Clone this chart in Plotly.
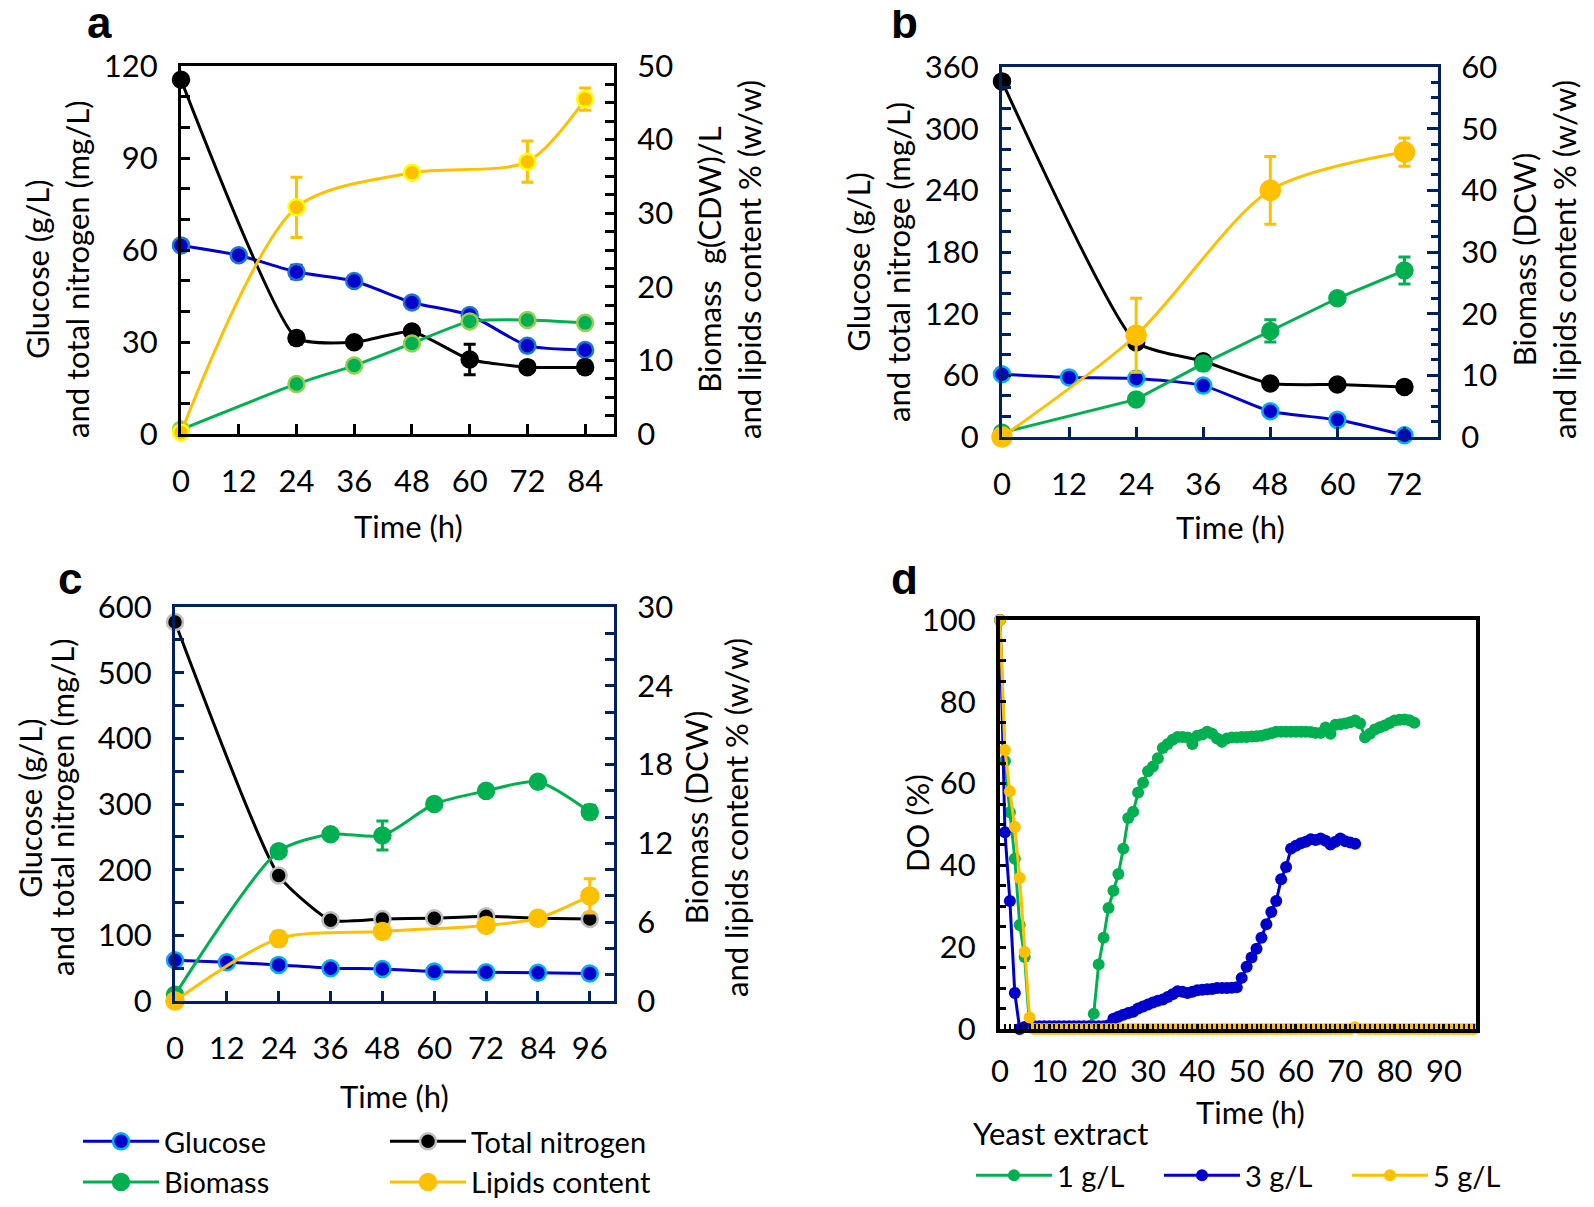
import plotly.graph_objects as go

# page size and the browser's default 8px body margin
PAGE_W, PAGE_H = 1594, 1207
OFF = 8
W, H = PAGE_W - 2 * OFF, PAGE_H - 2 * OFF

# ---------------- data ----------------
# Panel a
a_t_glu = [0, 12, 24, 36, 48, 60, 72, 84]
a_glu = [61.5, 58.3, 52.8, 49.9, 42.9, 38.8, 28.8, 27.4]
a_glu_err = [1.5, 1.2, 2.2, 1.5, 1.5, 1.0, 1.0, 1.0]
a_t_n = [0, 24, 36, 48, 60, 72, 84]
a_n = [115.5, 31.3, 29.9, 33.4, 24.3, 21.8, 21.8]
a_n_err = [1.0, 2.0, 1.5, 1.5, 5.0, 1.5, 2.0]
a_t_bio = [0, 24, 36, 48, 60, 72, 84]
a_bio = [0.6, 6.8, 9.3, 12.3, 15.3, 15.5, 15.1]
a_bio_err = [0.2, 0.3, 0.3, 0.5, 0.4, 0.3, 0.3]
a_t_lip = [0, 24, 48, 72, 84]
a_lip = [0.2, 30.8, 35.5, 37.0, 45.5]
a_lip_err = [0.0, 4.1, 0.5, 2.8, 1.5]

# Panel b
b_t_glu = [0, 12, 24, 36, 48, 60, 72]
b_glu = [61, 58, 57, 50, 25, 16.7, 1.7]
b_t_n = [0, 24, 36, 48, 60, 72]
b_n = [346, 92, 73.7, 52, 51, 48.6]
b_n_err = [2, 3, 3, 3, 3, 3]
b_t_bio = [0, 24, 36, 48, 60, 72]
b_bio = [0.7, 6.1, 11.9, 17.2, 22.5, 27.0]
b_bio_err = [0.2, 0.5, 1.0, 1.8, 0.8, 2.2]
b_t_lip = [0, 24, 48, 72]
b_lip = [0.0, 16.5, 40.0, 46.2]
b_lip_err = [0.0, 6.0, 5.5, 2.3]

# Panel c
c_t_glu = [0, 12, 24, 36, 48, 60, 72, 84, 96]
c_glu = [62, 59, 55, 50, 48.8, 45, 43.8, 43, 42]
c_t_n = [0, 24, 36, 48, 60, 72, 84, 96]
c_n = [577, 191, 123, 125, 126, 129, 126, 125]
c_t_bio = [0, 24, 36, 48, 60, 72, 84, 96]
c_bio = [0.47, 11.4, 12.7, 12.6, 15.0, 16.0, 16.7, 14.4]
c_bio_err = [0.1, 0.4, 0.3, 1.1, 0.3, 0.3, 0.3, 0.5]
c_t_lip = [0, 24, 48, 72, 84, 96]
c_lip = [0.0, 4.75, 5.3, 5.75, 6.3, 8.0]
c_lip_err = [0.0, 0.55, 0.5, 0.3, 0.35, 1.3]

# Panel d (DO %, hourly)
d_t_1 = list(range(0, 85))
d_do_1 = [100, 65.5, 53, 41.6, 25.4, 17.6, 0.4, 0.4, 0.4, 0.4,
          0.4, 0.4, 0.4, 0.4, 0.4, 0.4, 0.4, 0.4, 0.5, 3.7,
          15.8, 22.3, 29.6, 33.8, 37.9, 44.1, 51.6, 53.1, 57.8, 60.2,
          63.0, 64.2, 66.2, 68.7, 69.7, 70.7, 71.4, 71.4, 71.3, 69.7,
          71.7, 72.0, 72.7, 72.2, 71.0, 70.2, 71.0, 71.3, 71.3, 71.4,
          71.4, 71.5, 71.6, 71.7, 72.0, 72.3, 72.7, 72.7, 72.7, 72.7,
          72.7, 72.7, 72.7, 72.6, 72.4, 72.4, 73.7, 72.2, 74.4, 74.5,
          74.7, 75.0, 75.4, 74.7, 71.3, 72.2, 73.2, 73.8, 74.2, 74.8,
          75.4, 75.6, 75.7, 75.5, 74.9]
d_t_3 = list(range(0, 73))
d_do_3 = [100, 48.1, 31.3, 8.8, 0.0, 0.5, 0.7, 0.7, 0.7, 0.7,
          0.7, 0.7, 0.7, 0.7, 0.7, 0.7, 0.7, 0.7, 0.7, 0.7,
          0.7, 0.7, 0.9, 2.5, 3.0, 3.5, 3.9, 4.2, 5.0, 5.5,
          6.0, 6.5, 6.9, 7.2, 7.8, 8.5, 9.2, 9.1, 8.8, 9.1,
          9.5, 9.6, 9.7, 9.8, 10.0, 10.0, 10.0, 10.1, 10.2, 12.5,
          15.2, 17.5, 19.6, 22.3, 25.6, 28.6, 31.3, 36.6, 39.6, 44.1,
          44.8, 45.4, 45.8, 46.4, 46.2, 46.6, 46.0, 45.1, 45.8, 46.6,
          45.9, 45.6, 45.3]
d_t_5 = list(range(0, 97))
d_do_5 = [100, 68.2, 58.1, 49.4, 36.9, 18.8, 2.8, 0, 0, 0,
          0, 0, 0, 0, 0, 0, 0, 0, 0, 0,
          0, 0, 0, 0, 0, 0, 0, 0, 0, 0,
          0, 0, 0, 0, 0, 0, 0, 0, 0, 0,
          0, 0, 0, 0, 0, 0, 0, 0, 0, 0,
          0, 0, 0, 0, 0, 0, 0, 0, 0, 0,
          0, 0, 0, 0, 0, 0, 0, 0, 0, 0,
          0, 0, 0.4, 0, 0, 0, 0, 0, 0, 0,
          0, 0, 0, 0, 0, 0, 0, 0, 0, 0,
          0, 0, 0, 0, 0, 0, 0]

# ---------------- styles ----------------
FONT = "Lato"
BLUE = "#0000CC"
GREEN = "#00B050"
GOLD = "#FFC000"
BLACK = "#000000"
NAVY = "#002060"
TICK_SIZE = 31
TITLE_SIZE = 31
LEG_SIZE = 29


def px(x):
    return (x - OFF) / W


def py(y):
    return 1 - (y - OFF) / H


fig = go.Figure()


def series(x, y, color, xa, ya, err=None, fill=None, outline=None, size=15,
           shape="spline", name=None, legend=None, lw=3, olw=2.5, smooth=1.0):
    line = dict(color=color, width=lw, shape=shape)
    if shape == "spline":
        line["smoothing"] = smooth
    fig.add_trace(go.Scatter(
        x=x, y=y, xaxis=xa, yaxis=ya, mode="lines+markers",
        name=name, showlegend=legend is not None,
        legend=legend if legend else "legend",
        line=line,
        marker=dict(color=fill or color, size=size,
                    line=dict(color=outline or fill or color, width=olw)),
        error_y=(dict(type="data", array=err, color=color, thickness=3, width=6)
                 if err is not None else None),
        cliponaxis=False,
    ))


# Panel a
series(a_t_glu, a_glu, BLUE, "x", "y", a_glu_err, BLUE, "#1E78D2", 16, smooth=0.6)
series(a_t_n, a_n, BLACK, "x", "y", a_n_err, BLACK, BLACK, 16, smooth=0.5)
series(a_t_bio, a_bio, GREEN, "x", "y2", a_bio_err, GREEN, "#92D050", 16, smooth=0.6)
series(a_t_lip, a_lip, GOLD, "x", "y2", a_lip_err, GOLD, "#FFFF00", 16, smooth=0.8)

# Panel b
series(b_t_glu, b_glu, BLUE, "x2", "y3", None, BLUE, "#00B0F0", 16, smooth=0.6)
series(b_t_n, b_n, BLACK, "x2", "y3", b_n_err, BLACK, BLACK, 16, smooth=0.5)
series(b_t_bio, b_bio, GREEN, "x2", "y4", b_bio_err, GREEN, GREEN, 16, shape="linear")
series(b_t_lip, b_lip, GOLD, "x2", "y4", b_lip_err, GOLD, GOLD, 19, smooth=0.8)

# Panel c (these also feed the legend)
series(c_t_glu, c_glu, BLUE, "x3", "y5", None, BLUE, "#00B0F0", 16,
       name="Glucose", legend="legend", smooth=0.6)
series(c_t_n, c_n, BLACK, "x3", "y5", None, BLACK, "#BFBFBF", 16,
       name="Total nitrogen", legend="legend2", smooth=0.5)
series(c_t_bio, c_bio, GREEN, "x3", "y6", c_bio_err, GREEN, GREEN, 16,
       name="Biomass", legend="legend", smooth=0.7)
series(c_t_lip, c_lip, GOLD, "x3", "y6", c_lip_err, GOLD, GOLD, 17,
       name="Lipids content", legend="legend2", smooth=0.8)

# Panel d
series(d_t_1, d_do_1, GREEN, "x4", "y7", None, GREEN, GREEN, 12,
       shape="linear", name="1 g/L", legend="legend3", olw=0)
series(d_t_3, d_do_3, BLUE, "x4", "y7", None, BLUE, BLUE, 12,
       shape="linear", name="3 g/L", legend="legend3", olw=0)
series(d_t_5, d_do_5, GOLD, "x4", "y7", None, GOLD, GOLD, 12,
       shape="linear", name="5 g/L", legend="legend3", olw=0)

tickfont = dict(family=FONT, size=TICK_SIZE, color="#000000")


def xax(domain, anchor, rng, dtick, color, lw=3, minor=None, standoff=18, ticklen=10):
    d = dict(domain=domain, anchor=anchor, range=rng, dtick=dtick, tick0=0,
             showgrid=False, zeroline=False, showline=True, linecolor=color,
             linewidth=lw, mirror=True, ticks="inside", ticklen=ticklen,
             tickwidth=3, tickcolor=color, tickfont=tickfont,
             ticklabelstandoff=standoff, automargin=False)
    if minor:
        d["minor"] = minor
    return d


def yax(domain, anchor, rng, dtick, color, side="left", overlay=None, minor=None,
        lw=3, ticklen=9, standoff=14, mirror=False):
    d = dict(domain=domain, anchor=anchor, range=rng, dtick=dtick, tick0=0,
             showgrid=False, zeroline=False, showline=True, linecolor=color,
             linewidth=lw, ticks="inside", ticklen=ticklen, tickwidth=3,
             tickcolor=color, tickfont=tickfont, side=side,
             ticklabelstandoff=standoff, mirror=mirror, automargin=False)
    if overlay:
        d["overlaying"] = overlay
    if minor:
        d["minor"] = minor
    return d


dom_a_x = [px(181), px(614)]
dom_a_y = [py(434), py(66)]
dom_b_x = [px(1002), px(1438)]
dom_b_y = [py(437), py(67)]
dom_c_x = [px(175), px(614)]
dom_c_y = [py(1001), py(607)]
dom_d_x = [px(1000), px(1476)]
dom_d_y = [py(1029), py(620)]

fig.update_layout(
    xaxis=xax(dom_a_x, "y", [0, 90], 12, BLACK),
    yaxis=yax(dom_a_y, "x", [0, 120], 30, BLACK,
              minor=dict(dtick=10, ticks="inside", ticklen=9, tickwidth=3, tickcolor=BLACK)),
    yaxis2=yax(dom_a_y, "x", [0, 50], 10, BLACK, side="right", overlay="y",
               minor=dict(dtick=2.5, ticks="inside", ticklen=9, tickwidth=3, tickcolor=BLACK)),
    xaxis2=xax(dom_b_x, "y3", [0, 78], 12, NAVY),
    yaxis3=yax(dom_b_y, "x2", [0, 360], 60, NAVY,
               minor=dict(dtick=20, ticks="inside", ticklen=9, tickwidth=3, tickcolor=NAVY)),
    yaxis4=yax(dom_b_y, "x2", [0, 60], 10, NAVY, side="right", overlay="y3", ticklen=11,
               minor=dict(dtick=2.5, ticks="inside", ticklen=7, tickwidth=3, tickcolor=NAVY)),
    xaxis3=xax(dom_c_x, "y5", [0, 101.6], 12, NAVY),
    yaxis5=yax(dom_c_y, "x3", [0, 600], 100, NAVY,
               minor=dict(dtick=50, ticks="inside", ticklen=9, tickwidth=3, tickcolor=NAVY)),
    yaxis6=yax(dom_c_y, "x3", [0, 30], 6, NAVY, side="right", overlay="y5",
               minor=dict(dtick=2, ticks="inside", ticklen=9, tickwidth=3, tickcolor=NAVY)),
    xaxis4=xax(dom_d_x, "y7", [0, 96.5], 10, BLACK, lw=4, ticklen=5, standoff=12,
               minor=dict(dtick=1, ticks="inside", ticklen=5, tickwidth=2, tickcolor=BLACK)),
    yaxis7=yax(dom_d_y, "x4", [0, 100], 20, BLACK, lw=4, ticklen=6, mirror=True,
               minor=dict(dtick=5, ticks="inside", ticklen=6, tickwidth=3, tickcolor=BLACK)),
)

ann = []


def label(x, y, text, size=TITLE_SIZE, angle=0, bold=False, family=FONT,
          xanchor="center", yanchor="middle", height=None, valign="middle"):
    a = dict(x=px(x), y=py(y), xref="paper", yref="paper", text=text,
             showarrow=False, textangle=angle, xanchor=xanchor, yanchor=yanchor,
             align="center",
             font=dict(family=family, size=size, color="#000000",
                       weight="bold" if bold else "normal"))
    if height:
        a["height"] = height
        a["valign"] = valign
    ann.append(a)


# Panel letters (compact boxes so they stay inside the page)
for lx, ly, letter in [(99, 8, "a"), (904, 8, "b"), (70, 564, "c"), (904, 564, "d")]:
    label(lx, ly, letter, size=44, bold=True, family="Liberation Sans",
          yanchor="top", height=37, valign="bottom")

# Axis titles panel a
label(57, 270, "Glucose (g/L)<br>and total nitrogen (mg/L)", angle=-90)
label(729, 260, "Biomass  g(CDW)/L<br>and lipids content % (w/w)", angle=-90)
label(408, 526, "Time (h)")
# panel b
label(878, 262, "Glucose (g/L)<br>and total nitroge (mg/L)", angle=-90)
label(1544, 260, "Biomass (DCW)<br>and lipids content % (w/w)", angle=-90)
label(1230, 527, "Time (h)")
# panel c (two separate lines so the first one stays inside the page)
label(30, 808, "Glucose (g/L)", angle=-90)
label(62, 808, "and total nitrogen (mg/L)", angle=-90)
label(716, 818, "Biomass (DCW)<br>and lipids content % (w/w)", angle=-90)
label(394, 1096, "Time (h)")
# panel d
label(917, 823, "DO (%)", angle=-90)
label(1250, 1112, "Time (h)")
label(971, 1133, "Yeast extract", xanchor="left")

legfont = dict(family=FONT, size=LEG_SIZE, color="#000000")
fig.update_layout(
    annotations=ann,
    width=W, height=H,
    margin=dict(l=0, r=0, t=0, b=0, autoexpand=False),
    paper_bgcolor="white", plot_bgcolor="rgba(0,0,0,0)",
    font=dict(family=FONT, color="#000000"),
    legend=dict(x=px(78), y=py(1116), xanchor="left", yanchor="top",
                font=legfont, itemwidth=76, tracegroupgap=0, bgcolor="rgba(0,0,0,0)",
                maxheight=300),
    legend2=dict(x=px(385), y=py(1116), xanchor="left", yanchor="top",
                 font=legfont, itemwidth=76, tracegroupgap=0, bgcolor="rgba(0,0,0,0)",
                 maxheight=300),
    legend3=dict(x=px(971), y=py(1150), xanchor="left", yanchor="top",
                 orientation="h", font=legfont, itemwidth=76, entrywidth=97,
                 bgcolor="rgba(0,0,0,0)"),
)

fig.write_html("out.html")
